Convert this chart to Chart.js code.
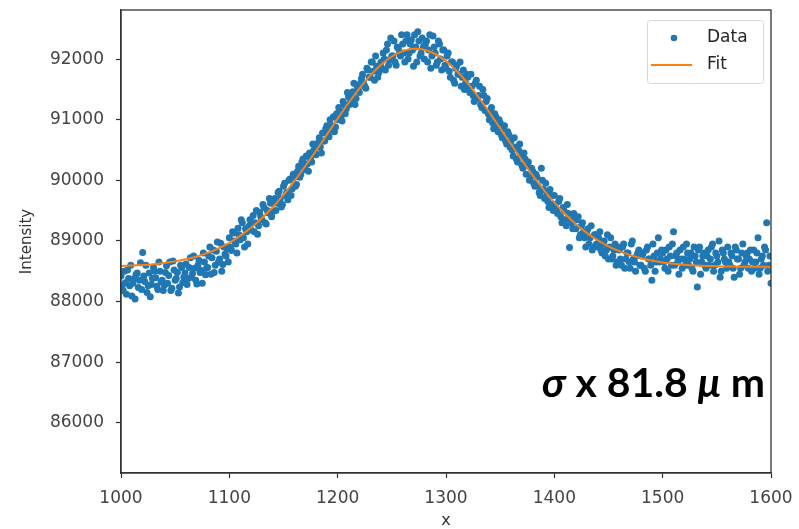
<!DOCTYPE html>
<html>
<head>
<meta charset="utf-8">
<script src="https://cdn.jsdelivr.net/npm/chart.js@4.4.1/dist/chart.umd.min.js"></script>
<style>
html,body{margin:0;padding:0;background:#fff;}
canvas{display:block;}
</style>
</head>
<body>
<canvas id="c" width="799" height="529"></canvas>
<script>
// ---- data ----
const dataX = [
1000,1002,1004,1006,1008,1010,1012,1014,1016,1018,
1020,1022,1024,1026,1028,1030,1032,1034,1036,1038,
1040,1042,1044,1046,1048,1050,1052,1054,1056,1058,
1060,1062,1064,1066,1068,1070,1072,1074,1076,1078,
1080,1082,1084,1086,1088,1090,1092,1094,1096,1098,
1100,1102,1104,1106,1108,1110,1112,1114,1116,1118,
1120,1122,1124,1126,1128,1130,1132,1134,1136,1138,
1140,1142,1144,1146,1148,1150,1152,1154,1156,1158,
1160,1162,1164,1166,1168,1170,1172,1174,1176,1178,
1180,1182,1184,1186,1188,1190,1192,1194,1196,1198,
1200,1202,1204,1206,1208,1210,1212,1214,1216,1218,
1220,1222,1224,1226,1228,1230,1232,1234,1236,1238,
1240,1242,1244,1246,1248,1250,1252,1254,1256,1258,
1260,1262,1264,1266,1268,1270,1272,1274,1276,1278,
1280,1282,1284,1286,1288,1290,1292,1294,1296,1298,
1300,1302,1304,1306,1308,1310,1312,1314,1316,1318,
1320,1322,1324,1326,1328,1330,1332,1334,1336,1338,
1340,1342,1344,1346,1348,1350,1352,1354,1356,1358,
1360,1362,1364,1366,1368,1370,1372,1374,1376,1378,
1380,1382,1384,1386,1388,1390,1392,1394,1396,1398,
1400,1402,1404,1406,1408,1410,1412,1414,1416,1418,
1420,1422,1424,1426,1428,1430,1432,1434,1436,1438,
1440,1442,1444,1446,1448,1450,1452,1454,1456,1458,
1460,1462,1464,1466,1468,1470,1472,1474,1476,1478,
1480,1482,1484,1486,1488,1490,1492,1494,1496,1498,
1500,1502,1504,1506,1508,1510,1512,1514,1516,1518,
1520,1522,1524,1526,1528,1530,1532,1534,1536,1538,
1540,1542,1544,1546,1548,1550,1552,1554,1556,1558,
1560,1562,1564,1566,1568,1570,1572,1574,1576,1578,
1580,1582,1584,1586,1588,1590,1592,1594,1596,1598,
1600
];
const dataY = [
88420,88180,88310,88520,88260,88090,88380,88450,88230,88640,
88810,88330,88150,88470,88280,88560,88390,88200,88500,88350,
88270,88590,88430,88180,88670,88350,88480,88240,88560,88400,
88620,88380,88720,88460,88550,88290,88680,88510,88800,88440,
88560,88900,88720,88480,88830,88650,88960,88610,88780,88870,
89050,88840,89130,88950,89210,89020,89300,88900,89150,89240,
89180,89420,89300,89110,89470,89350,89550,89280,89460,89620,
89480,89700,89620,89820,89560,89900,89750,89680,90020,89860,
90050,89930,90230,90100,90350,90180,90270,90450,90300,90500,
90420,90620,90550,90780,90650,90900,90720,90830,91050,90880,
91000,91150,90980,91250,91180,91380,91300,91460,91250,91550,
91450,91680,91600,91520,91820,91700,91950,91650,91880,91780,
91950,92100,91820,92250,91990,92050,92300,91900,92180,92050,
92250,91950,92400,92100,92320,91880,92200,92450,92050,92350,
92000,92300,92150,91850,92380,92100,91950,92250,91820,92150,
91850,92100,91700,91950,91600,91900,91750,91550,91820,91600,
91700,91450,91550,91300,91650,91400,91250,91500,91150,91350,
91000,91200,90850,91050,90800,90950,90700,90900,90600,90750,
90650,90400,90550,90300,90600,90250,90450,90100,90300,90050,
90150,89900,90050,89800,90200,89850,89950,89650,89850,89600,
89750,89500,89650,89400,89550,89350,89600,88890,89300,89450,
89200,89400,89100,89300,89050,89150,88950,89250,88900,89100,
88900,89150,88800,89000,88850,88700,89050,88750,88950,88650,
88850,88600,88950,88700,88800,88550,89000,88650,88750,88850,
88600,88800,88500,88900,88700,88350,88750,88650,89050,88700,
88800,88550,88700,88900,88600,89150,88750,88650,88850,88550,
88700,88950,88600,88800,88500,88750,88240,88900,88650,88800,
88550,88850,88700,88950,88600,88750,89000,88500,88800,88650,
88900,88600,88750,88400,88850,88700,88550,88950,88650,88800,
88700,88500,88850,88650,89050,88550,88750,88900,89300,88600,
88300
];
const dataX2 = [
1001,1003,1005,1007,1009,1011,1013,1015,1017,1019,
1021,1023,1025,1027,1029,1031,1033,1035,1037,1039,
1041,1043,1045,1047,1049,1051,1053,1055,1057,1059,
1061,1063,1065,1067,1069,1071,1073,1075,1077,1079,
1081,1083,1085,1087,1089,1091,1093,1095,1097,1099,
1101,1103,1105,1107,1109,1111,1113,1115,1117,1119,
1121,1123,1125,1127,1129,1131,1133,1135,1137,1139,
1141,1143,1145,1147,1149,1151,1153,1155,1157,1159,
1161,1163,1165,1167,1169,1171,1173,1175,1177,1179,
1181,1183,1185,1187,1189,1191,1193,1195,1197,1199,
1201,1203,1205,1207,1209,1211,1213,1215,1217,1219,
1221,1223,1225,1227,1229,1231,1233,1235,1237,1239,
1241,1243,1245,1247,1249,1251,1253,1255,1257,1259,
1261,1263,1265,1267,1269,1271,1273,1275,1277,1279,
1281,1283,1285,1287,1289,1291,1293,1295,1297,1299,
1301,1303,1305,1307,1309,1311,1313,1315,1317,1319,
1321,1323,1325,1327,1329,1331,1333,1335,1337,1339,
1341,1343,1345,1347,1349,1351,1353,1355,1357,1359,
1361,1363,1365,1367,1369,1371,1373,1375,1377,1379,
1381,1383,1385,1387,1389,1391,1393,1395,1397,1399,
1401,1403,1405,1407,1409,1411,1413,1415,1417,1419,
1421,1423,1425,1427,1429,1431,1433,1435,1437,1439,
1441,1443,1445,1447,1449,1451,1453,1455,1457,1459,
1461,1463,1465,1467,1469,1471,1473,1475,1477,1479,
1481,1483,1485,1487,1489,1491,1493,1495,1497,1499,
1501,1503,1505,1507,1509,1511,1513,1515,1517,1519,
1521,1523,1525,1527,1529,1531,1533,1535,1537,1539,
1541,1543,1545,1547,1549,1551,1553,1555,1557,1559,
1561,1563,1565,1567,1569,1571,1573,1575,1577,1579,
1581,1583,1585,1587,1589,1591,1593,1595,1597,1599
];
const dataY2 = [
88250,88500,88120,88380,88600,88300,88040,88470,88350,88200,
88420,88600,88260,88080,88380,88500,88250,88650,88320,88180,
88480,88300,88650,88220,88520,88380,88140,88600,88310,88470,
88280,88560,88400,88750,88350,88600,88480,88300,88650,88550,
88750,88450,88850,88600,88980,88700,88500,88900,88750,88650,
88900,89150,89000,88800,89100,89350,89050,89200,88950,89350,
89300,89150,89500,89250,89400,89600,89300,89500,89700,89400,
89650,89500,89800,89700,89600,89950,89800,90000,89750,90100,
89900,90150,90050,90300,90200,90400,90150,90350,90600,90450,
90550,90700,90450,90650,90850,90750,91000,90900,90800,91100,
91200,91050,91300,91100,91450,91250,91400,91600,91350,91500,
91600,91750,91550,91850,91700,91950,91800,92050,91700,91900,
91850,92000,92150,91900,92350,92050,91950,92200,92100,92400,
92100,92300,92000,92250,92150,92400,91950,92300,92100,92200,
92250,91950,92400,92050,92200,91900,92300,92000,92150,91900,
92050,91800,91950,91650,91850,91750,91950,91700,91500,91750,
91550,91750,91400,91600,91350,91550,91200,91400,91300,91100,
91150,90950,91100,90900,91000,90750,90850,90650,90800,90550,
90500,90700,90350,90500,90400,90200,90350,90250,90000,90200,
89950,90100,89900,89750,90000,89700,89800,89550,89750,89500,
89600,89450,89700,89300,89500,89250,89450,89350,89200,89400,
89350,89050,89250,89150,88900,89200,89050,88850,89100,88950,
89050,88850,88950,88750,89100,88900,88700,88850,88600,88900,
88700,88900,88550,88800,88650,88950,88700,88500,88800,88600,
88750,88550,88850,88700,88600,88950,88500,88800,88650,88850,
88650,88850,88500,88750,88950,88600,88800,88450,88700,88900,
88600,88800,88700,88550,88900,88650,88850,88450,88750,88600,
88750,88600,88900,88500,88800,88650,88400,88850,88700,88550,
88650,88800,88550,88900,88700,88450,88800,88600,88750,88550,
88850,88650,88550,88800,88450,88700,88600,88850,88500,88750
];
const fitX = [
1000,1010,1020,1030,1040,1050,1060,1070,1080,1090,
1100,1110,1120,1130,1140,1150,1160,1170,1180,1190,
1200,1210,1220,1230,1240,1250,1260,1270,1280,1290,
1300,1310,1320,1330,1340,1350,1360,1370,1380,1390,
1400,1410,1420,1430,1440,1450,1460,1470,1480,1490,
1500,1510,1520,1530,1540,1550,1560,1570,1580,1590,1600
];
const fitY = [
88585,88592,88602,88616,88636,88662,88697,88743,88802,88877,
88969,89082,89216,89374,89555,89760,89987,90231,90488,90753,
91018,91275,91514,91728,91906,92043,92132,92169,92153,92084,
91966,91804,91603,91373,91123,90860,90594,90333,90082,89848,
89635,89443,89276,89133,89011,88911,88830,88765,88714,88675,
88645,88623,88607,88595,88587,88581,88578,88575,88573,88572,88571
];
const xTicks = [1000,1100,1200,1300,1400,1500,1600];
const yTicks = [86000,87000,88000,89000,90000,91000,92000];
const seriesNames = ['Data','Fit'];
const xLabel = 'x';
const yLabel = 'Intensity';
const noteParts = [['σ',true],[' x 81.8 ',false],['μ',true],[' m',false]];

const BLUE = '#1f77b4', ORANGE = '#ff7f0e';
const TICK_FONT = {family:'DejaVu Sans', size:17};

const framePlugin = {
  id:'frame',
  afterDraw(chart){
    const {ctx, chartArea:a} = chart;
    ctx.save();
    ctx.strokeStyle = '#333'; ctx.lineWidth = 1.3;
    ctx.strokeRect(a.left, a.top, a.right - a.left, a.bottom - a.top);
    // legend
    const lx = 647, ly = 20, lw = 116, lh = 63;
    ctx.fillStyle = 'rgba(255,255,255,0.85)';
    ctx.strokeStyle = '#d6d6d6'; ctx.lineWidth = 1;
    ctx.beginPath();
    if (ctx.roundRect) ctx.roundRect(lx+0.5, ly+0.5, lw, lh, 3); else ctx.rect(lx+0.5, ly+0.5, lw, lh);
    ctx.fill(); ctx.stroke();
    ctx.fillStyle = BLUE;
    ctx.beginPath(); ctx.arc(674, 38, 3.3, 0, Math.PI*2); ctx.fill();
    ctx.strokeStyle = ORANGE; ctx.lineWidth = 2;
    ctx.beginPath(); ctx.moveTo(651, 65); ctx.lineTo(692, 65); ctx.stroke();
    ctx.fillStyle = '#262626';
    ctx.font = '17px "DejaVu Sans"';
    ctx.textBaseline = 'middle'; ctx.textAlign = 'left';
    ctx.fillText(seriesNames[0], 707, 38);
    ctx.fillText(seriesNames[1], 707, 65);
    // annotation
    const fam = 'Lato, "Noto Sans", sans-serif';
    const setF = (it, s) => { ctx.font = (it ? 'italic ' : '') + '700 ' + s + 'px ' + fam; };
    let base = 32, w = 0;
    noteParts.forEach(p => { setF(p[1], base); w += ctx.measureText(p[0]).width; });
    const size = base * 223 / w;
    let x = 542;
    ctx.fillStyle = '#000';
    ctx.textBaseline = 'middle';
    noteParts.forEach(p => { setF(p[1], size); ctx.fillText(p[0], x, 384); x += ctx.measureText(p[0]).width; });
    ctx.restore();
  }
};

const pts = dataX.map((x,i)=>({x, y: dataY[i]})).concat(dataX2.map((x,i)=>({x, y: dataY2[i]})));

new Chart(document.getElementById('c'), {
  type: 'scatter',
  data: {
    datasets: [
      { label: seriesNames[1], type:'line', data: fitX.map((x,i)=>({x, y: fitY[i]})),
        borderColor: ORANGE, borderWidth: 2, pointRadius: 0, fill:false, tension:0.3 },
      { label: seriesNames[0], data: pts,
        backgroundColor: BLUE, borderWidth: 0, pointRadius: 3.5, pointHoverRadius: 3.5 }
    ]
  },
  options: {
    responsive: false,
    animation: false,
    devicePixelRatio: 1,
    layout: { padding: { top: 10, right: 28, left: 0, bottom: 0 } },
    plugins: { legend: { display: false }, tooltip: { enabled: false } },
    scales: {
      x: {
        type: 'linear', min: 1000, max: 1600,
        afterBuildTicks: s => { s.ticks = xTicks.map(v => ({value: v})); },
        afterFit: s => { s.height = 56; s.paddingLeft = 0; s.paddingRight = 0; },
        grid: { drawOnChartArea: false, drawTicks: true, tickLength: 5, tickColor: '#333', tickWidth: 1.2 },
        border: { display: true, color: '#333', width: 1.3 },
        ticks: { font: TICK_FONT, color: '#444', padding: 10, maxRotation: 0, callback: v => String(v) },
        title: { display: true, text: xLabel, font: {family:'DejaVu Sans', size:16, lineHeight:1}, color:'#333', padding: {top:0, bottom:0} }
      },
      y: {
        type: 'linear', min: 85170, max: 92810,
        afterBuildTicks: s => { s.ticks = yTicks.map(v => ({value: v})); },
        afterFit: s => { s.width = 121; s.paddingTop = 0; s.paddingBottom = 0; },
        grid: { drawOnChartArea: false, drawTicks: true, tickLength: 5, tickColor: '#333', tickWidth: 1.2 },
        border: { display: true, color: '#333', width: 1.3 },
        ticks: { font: TICK_FONT, color: '#444', padding: 12, callback: v => String(v) },
        title: { display: true, text: yLabel, font: {family:'DejaVu Sans', size:15}, color:'#333', padding: {top:18, bottom:0} }
      }
    }
  },
  plugins: [framePlugin]
});
</script>
</body>
</html>
